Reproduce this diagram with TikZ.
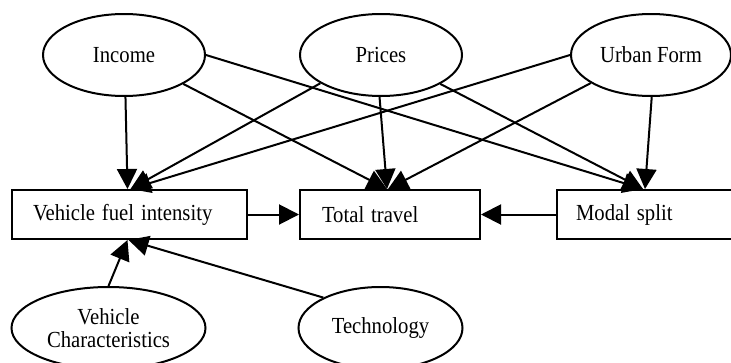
\documentclass[tikz,border=0pt]{standalone}
\usepackage{fontspec}
\usepackage{graphicx}
\setmainfont{Liberation Serif}
\newcommand{\nsq}[1]{\scalebox{0.9}[1]{#1}}
\usetikzlibrary{arrows.meta,shapes.geometric}
\begin{document}
\begin{tikzpicture}[x=1pt,y=-1pt,
  every node/.style={font=\fontsize{23}{23}\selectfont},
  oval/.style={draw, ellipse, line width=2pt, inner sep=0pt, minimum height=82pt, align=center},
  boxnode/.style={draw, rectangle, line width=2pt, minimum height=49pt, align=left},
  conn/.style={line width=2pt, -{Triangle[length=20pt,width=20pt]}}]
\clip (0,0) rectangle (731,362);
% ovals
\node[oval, minimum width=162pt] (inc) at (124,55) {\nsq{Income}};
\node[oval, minimum width=162pt] (pri) at (381,55) {\nsq{Prices}};
\node[oval, minimum width=160pt] (urb) at (651,55) {\nsq{Urban Form}};
\node[oval, minimum width=194pt] (vch) at (108.5,328) {\nsq{Vehicle}\\\nsq{Characteristics}};
\node[oval, minimum width=164pt] (tec) at (380.5,328) {\nsq{Technology}};
% boxes
\node[boxnode, inner xsep=21pt, text width=193pt] (vfi) at (129.5,214.5) {\nsq{Vehicle fuel intensity}};
\node[boxnode, inner xsep=22pt, text width=136pt] (tt) at (390,214.5) {\nsq{Total travel}};
\node[boxnode, inner xsep=19pt, text width=142pt] (ms) at (647,214.5) {\nsq{Modal split}};
% connectors
\draw[conn] (inc.-88) -- ([xshift=-2pt]vfi.north);
\draw[conn] (inc.-26) -- ([xshift=-3pt]tt.north);
\draw[conn] (inc.east) -- ([xshift=-4pt]ms.north);
\draw[conn] (pri.-155) -- ([xshift=1pt]vfi.north);
\draw[conn] (pri.-92) -- ([xshift=-3pt]tt.north);
\draw[conn] (pri.-26) -- ([xshift=-4pt]ms.north);
\draw[conn] (urb.west) -- ([xshift=1pt]vfi.north);
\draw[conn] (urb.-155) -- ([xshift=-2pt]tt.north);
\draw[conn] (urb.-89) -- ([xshift=-2pt]ms.north);
\draw[conn] (vfi.east) -- (tt.west);
\draw[conn] (ms.west) -- (tt.east);
\draw[conn] (vch.north) -- ([xshift=-2pt]vfi.south);
\draw[conn] (tec.152) -- ([xshift=-1pt]vfi.south);
\end{tikzpicture}
\end{document}
